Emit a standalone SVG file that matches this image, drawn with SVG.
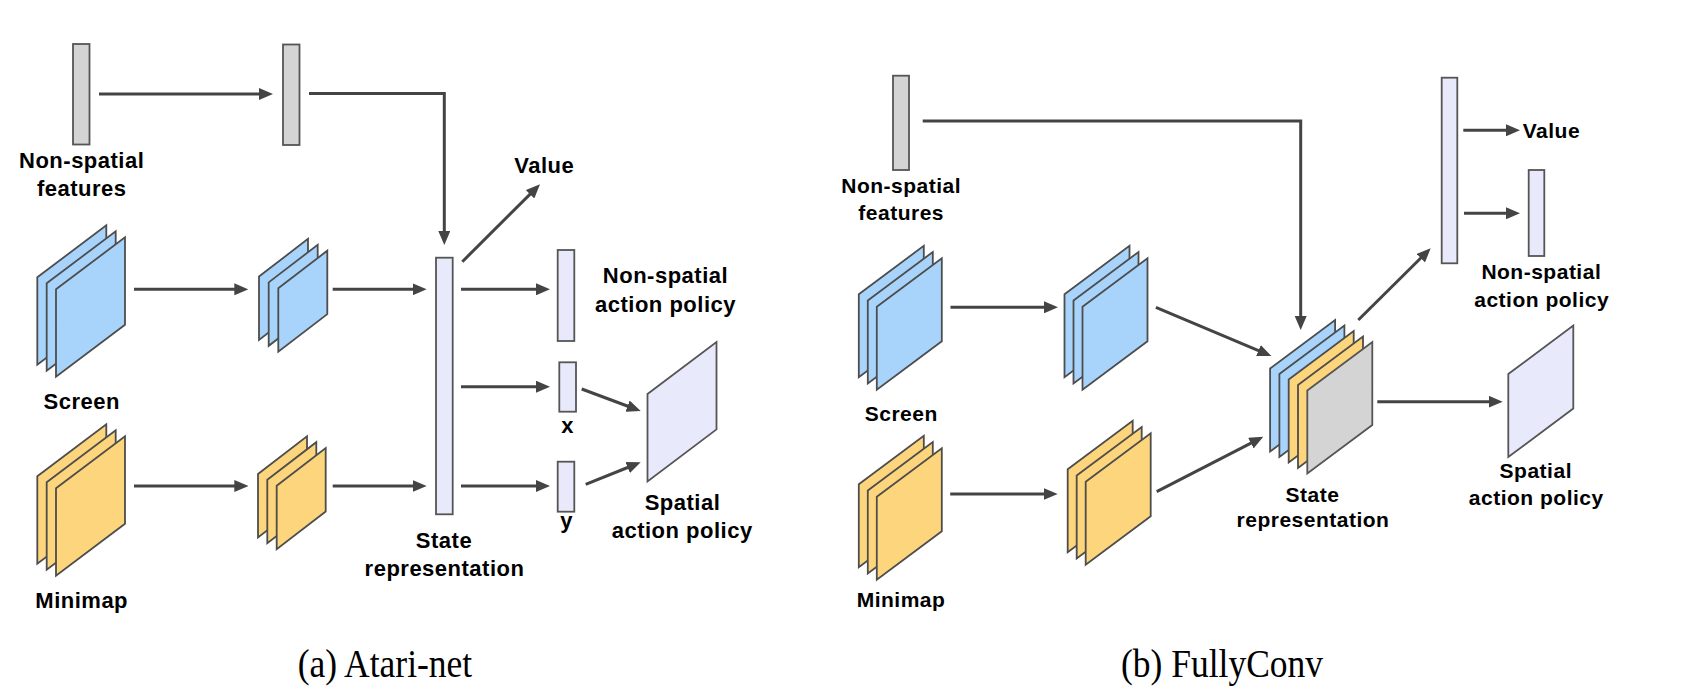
<svg xmlns="http://www.w3.org/2000/svg" xmlns:xlink="http://www.w3.org/1999/xlink" width="1697" height="696" viewBox="0 0 1697 696">
  <style>
    .lbl { font-family: "Liberation Sans", Arial, sans-serif; font-weight: bold; font-size: 22px; letter-spacing: 0.5px; fill: #000; text-anchor: middle; }
    .lbl-b { font-size: 21px; }
    .cap { font-family: "Liberation Serif", "Times New Roman", serif; font-size: 35.5px; fill: #000; text-anchor: middle; }
    .gray { fill: #D4D4D4; stroke: #555; stroke-width: 1.8; }
    .blue { fill: #A8D4FC; stroke: #4d4d4d; stroke-width: 1.8; stroke-linejoin: miter; }
    .yellow { fill: #FDD57C; stroke: #4d4d4d; stroke-width: 1.8; stroke-linejoin: miter; }
    .lav { fill: #E8EAFC; stroke: #555; stroke-width: 1.8; }
    .conn line, .conn path { stroke: #444; stroke-width: 3; fill: none; marker-end: url(#arrow); }
  </style>
  <defs>
    <marker id="arrow" markerUnits="userSpaceOnUse" markerWidth="14" markerHeight="12" refX="4" refY="6" orient="auto">
      <path d="M0,0 L14,6 L0,12 Z" fill="#444"/>
    </marker>
    <!-- feature-map sheets: origin at the top-left corner -->
    <path id="sheetA" d="M0,0 L69,-52 L69,35.4 L0,87.4 Z"/>
    <path id="sheetAs" d="M0,0 L49,-37.6 L49,25.8 L0,63.4 Z"/>
    <path id="sheetB" d="M0,0 L65,-48.5 L65,34.5 L0,83 Z"/>
  </defs>

  <!-- ===== (a) Atari-net ===== -->
  <g id="a-nonspatial-in">
    <rect class="gray" x="73" y="44" width="16.5" height="100.5"/>
    <text class="lbl" x="81.7" y="167.5">Non-spatial</text>
    <text class="lbl" x="81.7" y="196">features</text>
  </g>
  <g id="a-nonspatial-fc">
    <rect class="gray" x="283" y="44.5" width="16.5" height="100.5"/>
  </g>
  <g id="a-screen">
    <use href="#sheetA" class="blue" x="37.3" y="277.3"/>
    <use href="#sheetA" class="blue" x="46.7" y="283.3"/>
    <use href="#sheetA" class="blue" x="56" y="289.3"/>
    <text class="lbl" x="81.7" y="409.3">Screen</text>
  </g>
  <g id="a-screen-conv">
    <use href="#sheetAs" class="blue" x="259" y="276.5"/>
    <use href="#sheetAs" class="blue" x="268.7" y="282.4"/>
    <use href="#sheetAs" class="blue" x="278.3" y="288.3"/>
  </g>
  <g id="a-minimap">
    <use href="#sheetA" class="yellow" x="37.3" y="476.3"/>
    <use href="#sheetA" class="yellow" x="46.7" y="482.3"/>
    <use href="#sheetA" class="yellow" x="56" y="488.3"/>
    <text class="lbl" x="81.7" y="608.3">Minimap</text>
  </g>
  <g id="a-minimap-conv">
    <use href="#sheetAs" class="yellow" x="258" y="474"/>
    <use href="#sheetAs" class="yellow" x="267.3" y="479.8"/>
    <use href="#sheetAs" class="yellow" x="276.7" y="485.7"/>
  </g>
  <g id="a-state">
    <rect class="lav" x="436" y="257.7" width="16.7" height="256.6"/>
    <text class="lbl" x="444" y="547.7">State</text>
    <text class="lbl" x="444.5" y="576">representation</text>
  </g>
  <g id="a-value">
    <text class="lbl" x="544.2" y="172.7">Value</text>
  </g>
  <g id="a-nonspatial-policy">
    <rect class="lav" x="557.7" y="250" width="16.6" height="91"/>
    <text class="lbl" x="665.5" y="283.3">Non-spatial</text>
    <text class="lbl" x="665.5" y="311.7">action policy</text>
  </g>
  <g id="a-x">
    <rect class="lav" x="559.3" y="362.3" width="16.7" height="49.4"/>
    <text class="lbl" x="567.7" y="433.3">x</text>
  </g>
  <g id="a-y">
    <rect class="lav" x="557.7" y="461.7" width="16.6" height="50"/>
    <text class="lbl" x="566.7" y="528">y</text>
  </g>
  <g id="a-spatial-policy">
    <use href="#sheetA" class="lav" x="647.5" y="394"/>
    <text class="lbl" x="682.5" y="510">Spatial</text>
    <text class="lbl" x="682.2" y="537.5">action policy</text>
  </g>

  <!-- ===== (b) FullyConv ===== -->
  <g id="b-nonspatial-in">
    <rect class="gray" x="893" y="75.7" width="16" height="94.3"/>
    <text class="lbl lbl-b" x="901.2" y="192.7">Non-spatial</text>
    <text class="lbl lbl-b" x="901.2" y="220">features</text>
  </g>
  <g id="b-screen">
    <use href="#sheetB" class="blue" x="858.8" y="294.3"/>
    <use href="#sheetB" class="blue" x="867.8" y="300.5"/>
    <use href="#sheetB" class="blue" x="876.8" y="306.7"/>
    <text class="lbl lbl-b" x="901.3" y="420.7">Screen</text>
  </g>
  <g id="b-screen-conv">
    <use href="#sheetB" class="blue" x="1064.5" y="294.3"/>
    <use href="#sheetB" class="blue" x="1073.5" y="300.5"/>
    <use href="#sheetB" class="blue" x="1082.5" y="306.7"/>
  </g>
  <g id="b-minimap">
    <use href="#sheetB" class="yellow" x="858.8" y="484.3"/>
    <use href="#sheetB" class="yellow" x="867.8" y="490.5"/>
    <use href="#sheetB" class="yellow" x="876.8" y="496.7"/>
    <text class="lbl lbl-b" x="901" y="607">Minimap</text>
  </g>
  <g id="b-minimap-conv">
    <use href="#sheetB" class="yellow" x="1067.7" y="469.3"/>
    <use href="#sheetB" class="yellow" x="1076.7" y="475.5"/>
    <use href="#sheetB" class="yellow" x="1085.7" y="481.7"/>
  </g>
  <g id="b-state">
    <use href="#sheetB" class="blue" x="1270.1" y="368.5"/>
    <use href="#sheetB" class="blue" x="1279.4" y="374"/>
    <use href="#sheetB" class="yellow" x="1288.7" y="379.5"/>
    <use href="#sheetB" class="yellow" x="1298" y="385"/>
    <use href="#sheetB" class="gray" x="1307.3" y="390.5"/>
    <text class="lbl lbl-b" x="1312.5" y="501.7">State</text>
    <text class="lbl lbl-b" x="1313" y="526.7">representation</text>
  </g>
  <g id="b-fc">
    <rect class="lav" x="1441.7" y="77.7" width="15.6" height="185.6"/>
  </g>
  <g id="b-value">
    <text class="lbl lbl-b" x="1522.7" y="138.3" style="text-anchor:start">Value</text>
  </g>
  <g id="b-nonspatial-policy">
    <rect class="lav" x="1528.7" y="170" width="15.6" height="86"/>
    <text class="lbl lbl-b" x="1541.3" y="279.3">Non-spatial</text>
    <text class="lbl lbl-b" x="1541.7" y="306.7">action policy</text>
  </g>
  <g id="b-spatial-policy">
    <use href="#sheetB" class="lav" x="1508.3" y="374"/>
    <text class="lbl lbl-b" x="1535.8" y="478.3">Spatial</text>
    <text class="lbl lbl-b" x="1536.3" y="505">action policy</text>
  </g>

  <!-- connectors -->
  <g id="connectors" class="conn">
    <!-- (a) -->
    <line x1="99" y1="94" x2="263" y2="94"/>
    <path d="M309,93.5 H444.3 V235"/>
    <line x1="134" y1="289.3" x2="238.3" y2="289.3"/>
    <line x1="332.7" y1="289.3" x2="416.7" y2="289.3"/>
    <line x1="134" y1="486" x2="238.3" y2="486"/>
    <line x1="332.7" y1="486" x2="416.7" y2="486"/>
    <line x1="462.3" y1="261.7" x2="532.9" y2="191.4"/>
    <line x1="461" y1="289.3" x2="540" y2="289.3"/>
    <line x1="461" y1="386.7" x2="540" y2="386.7"/>
    <line x1="461" y1="486" x2="540" y2="486"/>
    <line x1="581.7" y1="389" x2="631.3" y2="407.5"/>
    <line x1="585.7" y1="484.3" x2="631.4" y2="466"/>
    <!-- (b) -->
    <path d="M922.7,121 H1300.7 V320"/>
    <line x1="950.5" y1="307.3" x2="1048" y2="307.3"/>
    <line x1="1155.9" y1="307.3" x2="1262.1" y2="352.1"/>
    <line x1="950.2" y1="494" x2="1047.7" y2="494"/>
    <line x1="1156.7" y1="491.7" x2="1254.4" y2="441.3"/>
    <line x1="1358.3" y1="320" x2="1423.6" y2="255.3"/>
    <line x1="1463.3" y1="130.3" x2="1510" y2="130.3"/>
    <line x1="1464" y1="213.3" x2="1510" y2="213.3"/>
    <line x1="1377.3" y1="401.7" x2="1492.7" y2="401.7"/>
  </g>

  <!-- sub-figure captions -->
  <text class="cap" transform="translate(385,677) scale(1,1.12)">(a) Atari-net</text>
  <text class="cap" transform="translate(1222,677) scale(1,1.12)">(b) FullyConv</text>
</svg>
